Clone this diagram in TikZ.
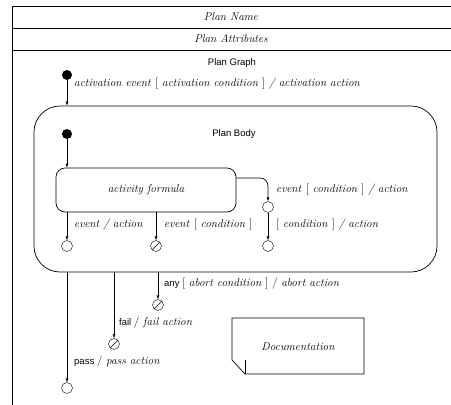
\documentclass[tikz,border=0pt]{standalone}
\usepackage{fontspec}
\setsansfont{Liberation Sans}
\usetikzlibrary{shapes,positioning,calc}
\usetikzlibrary{arrows.meta}

\begin{document}
\begin{tikzpicture}[x=1pt, y=-1pt, >={Latex[length=4pt,width=3pt]},
	startdot/.style={circle, fill, inner sep=0pt, minimum size=10pt},
	endst/.style={circle, draw, inner sep=0pt, minimum size=11pt},
	abortst/.style={endst, path picture={\draw ($(path picture bounding box.center)+(-135:6pt)$) -- ($(path picture bounding box.center)+(45:6pt)$);}},
	txt/.style={font=\fontsize{11.3}{13}\selectfont\itshape, inner sep=0pt},
	sftxt/.style={font=\fontsize{9.5}{12}\selectfont\sffamily, inner sep=0pt},
	guard/.style={txt, anchor=west}]
				\useasboundingbox (0,0) rectangle (451,405);
				\clip (0,0) rectangle (451,405);

				% Frame

				\draw[line width=1pt] (12,420) -- (12,6) -- (460,6);
				\draw[line width=0.9pt] (12,28) -- (460,28);
				\draw[line width=0.9pt] (12,50) -- (460,50);
				\node [txt] (name) at (231,17) {Plan Name};
				\node [txt] (attr) at (231,39) {Plan Attributes};
				\node [sftxt] (graph) at (232,63) {Plan Graph};

				% Nodes

				\node [startdot] (s0) at (67,75) {};
				\node [draw, rectangle, rounded corners=26pt, minimum width=403pt, minimum height=166pt, line width=0.7pt] (body) at (235.5,189) {};
				\node [sftxt] (bname) at (234,134) {Plan Body};
				\node [startdot] (s1) at (67,134) {};
				\node [draw, rectangle, rounded corners=9pt, minimum width=180pt, minimum height=44pt, txt, line width=0.7pt] (act) at (146,190) {activity formula};
				\node [endst] (c1) at (268,207) {};
				\node [endst] (c2) at (268,246) {};
				\node [endst] (e1) at (67,246) {};
				\node [abortst] (a1) at (156,246) {};
				\node [abortst] (a2) at (158,305) {};
				\node [abortst] (a3) at (114,344) {};
				\node [endst] (e2) at (67,388) {};
				\node [txt] (doc) at (298,347) {Documentation};

				% Labels

				\node [guard] (g0) at (74,84) {activation event \textup{[} activation condition \textup{]} / activation action};
				\node [guard] (g1) at (276,190) {event \textup{[} condition \textup{]} / action};
				\node [guard] (g2) at (276,225) {\textup{[} condition \textup{]} / action};
				\node [guard] (g3) at (74,225) {event / action};
				\node [guard] (g4) at (164,225) {event \textup{[} condition \textup{]}};
				\node [guard] (g5) at (164,284) {\sffamily\upshape\fontsize{9.5}{12}\selectfont any {\rmfamily\fontsize{11.3}{13}\selectfont[ \itshape abort condition \upshape] / \itshape abort action}};
				\node [guard] (g6) at (119,323) {\sffamily\upshape\fontsize{9.5}{12}\selectfont fail {\rmfamily\fontsize{11.3}{13}\selectfont / \itshape fail action}};
				\node [guard] (g7) at (74,362) {\sffamily\upshape\fontsize{9.5}{12}\selectfont pass {\rmfamily\fontsize{11.3}{13}\selectfont / \itshape pass action}};

				% Note

				\draw[line width=0.7pt] (232,318) -- (364,318) -- (364,374) -- (245,374) -- (232,360) -- cycle;
				\draw (245,374) -- (245,360);

				% Arrows

				\draw[->] (s0) -- (s0 |- body.north);
				\draw[->] (s1) -- (act.north -| s1);
				\draw[->, rounded corners=8pt, line width=0.7pt] (act.east |- 0,178) -| (c1);
				\draw[->] (c1) -- (c2);
				\draw[->] (act.south -| e1) -- (e1);
				\draw[->] (act.south -| a1) -- (a1);
				\draw[->] (body.south -| a2) -- (a2);
				\draw[->] (body.south -| a3) -- (a3);
				\draw[->] (body.south -| e2) -- (e2);
\end{tikzpicture}
\end{document}
